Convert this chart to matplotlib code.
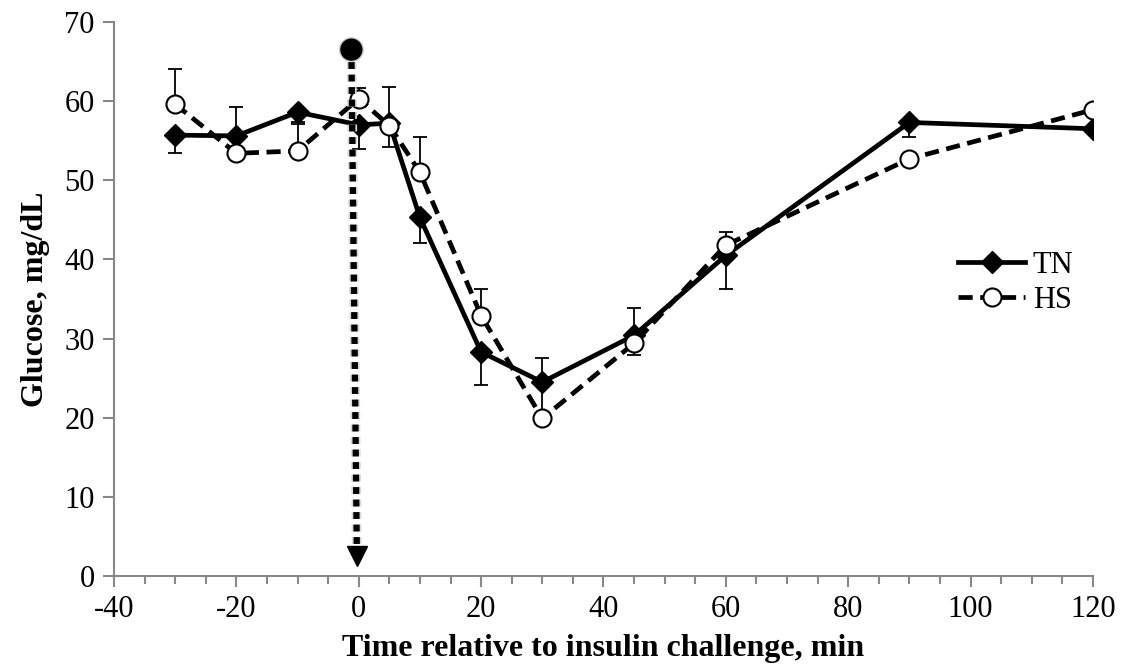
import matplotlib
matplotlib.use("Agg")
import matplotlib.pyplot as plt
import matplotlib.patheffects as pe
from matplotlib.ticker import MultipleLocator

# Glucose response to insulin challenge
time_min = [-30, -20, -10, 0, 5, 10, 20, 30, 45, 60, 90, 120]

tn_glucose = [55.7, 55.6, 58.6, 57.0, 57.2, 45.3, 28.3, 24.5, 30.4, 40.5, 57.3, 56.5]
tn_err_minus = [2.2, 0.0, 1.3, 3.0, 3.0, 3.2, 4.2, 0.0, 2.5, 4.3, 1.9, 0.0]

hs_glucose = [59.6, 53.4, 53.7, 60.3, 56.9, 51.0, 32.9, 19.9, 29.4, 41.8, 52.7, 58.9]
hs_err_plus = [4.4, 5.8, 3.4, 1.3, 4.9, 4.5, 3.4, 7.7, 4.4, 1.6, 0.0, 0.0]

# insulin injection marker
inject_time = -1.2
inject_top = 66.5

plt.rcParams['font.family'] = ['Liberation Serif', 'DejaVu Serif']
plt.rcParams['axes.unicode_minus'] = False

fig = plt.figure(figsize=(11.24, 6.66), dpi=100)
ax = fig.add_axes([0.1014, 0.1351, 0.871, 0.832])

zeros = [0.0] * len(time_min)

ax.errorbar(time_min, tn_glucose, yerr=[tn_err_minus, zeros], fmt='none',
            ecolor='black', elinewidth=1.3, capsize=5, capthick=1.3, zorder=2)
ax.errorbar(time_min, hs_glucose, yerr=[zeros, hs_err_plus], fmt='none',
            ecolor='black', elinewidth=1.3, capsize=5, capthick=1.3, zorder=2)

ax.plot(time_min, tn_glucose, color='black', lw=3.4, marker='D', ms=11,
        mfc='black', mec='black', label='TN', zorder=3)
ax.plot(time_min, hs_glucose, color='black', lw=3.4, ls=(0, (3, 1.6)), marker='o',
        ms=13, mfc='white', mec='black', mew=1.5, label='HS', zorder=4)

# dotted arrow from the injection point down to the axis
shadow = [pe.withStroke(linewidth=7, foreground='#d8d8d8')]
ax.plot([inject_time, inject_time + 0.9], [inject_top, 2.5], color='black', lw=4.5,
        ls=(0, (1.1, 0.9)), zorder=5, path_effects=shadow)
ax.plot([inject_time], [inject_top], marker='o', ms=15, color='black', zorder=6,
        path_effects=[pe.withStroke(linewidth=3, foreground='#cccccc')])
ax.plot([inject_time + 0.9], [2.5], marker='v', ms=15, color='black', zorder=6)

ax.set_xlim(-40, 120)
ax.set_ylim(0, 70)
ax.xaxis.set_major_locator(MultipleLocator(20))
ax.xaxis.set_minor_locator(MultipleLocator(5))
ax.yaxis.set_major_locator(MultipleLocator(10))

for side in ['top', 'right']:
    ax.spines[side].set_visible(False)
for side in ['left', 'bottom']:
    ax.spines[side].set_color('#888888')
    ax.spines[side].set_linewidth(1.5)

ax.tick_params(axis='both', which='major', direction='out', length=8, width=1.5,
               color='#888888', labelsize=22, pad=6)
ax.tick_params(axis='x', which='minor', direction='out', length=6, width=1.5,
               color='#888888')

ax.set_xlabel('Time relative to insulin challenge, min', fontsize=23,
              fontweight='bold', labelpad=7)
ax.set_ylabel('Glucose, mg/dL', fontsize=23, fontweight='bold', labelpad=10)

ax.legend(loc='center left', bbox_to_anchor=(0.834, 0.529), frameon=False,
          fontsize=22, handlelength=2.2, handletextpad=0.25, labelspacing=0.2)

fig.savefig('out.png', dpi=100)
